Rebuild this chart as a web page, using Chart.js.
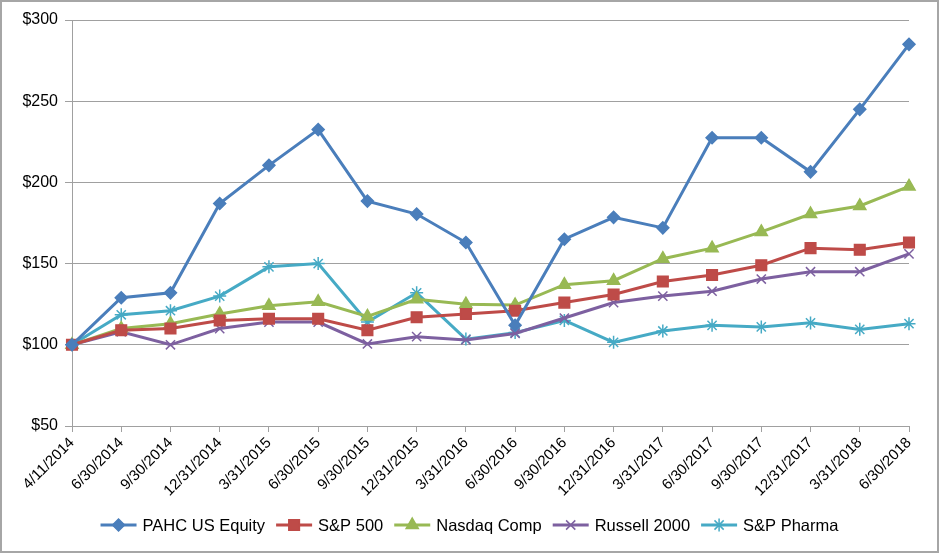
<!DOCTYPE html>
<html>
<head>
<meta charset="utf-8">
<script src="https://cdn.jsdelivr.net/npm/chart.js@4/dist/chart.umd.min.js"></script>
<style>
  html, body { margin: 0; padding: 0; background: #fff; }
  .frame { width: 935px; height: 549px; border: 2px solid #a6a6a6; }
</style>
</head>
<body>
<div class="frame"><canvas id="chart" width="935" height="549"></canvas></div>
<script>
const dates = ['4/11/2014', '6/30/2014', '9/30/2014', '12/31/2014', '3/31/2015', '6/30/2015',
  '9/30/2015', '12/31/2015', '3/31/2016', '6/30/2016', '9/30/2016', '12/31/2016',
  '3/31/2017', '6/30/2017', '9/30/2017', '12/31/2017', '3/31/2018', '6/30/2018'];

const pahc = [100, 129, 132, 187, 210.5, 232.5, 188.5, 180.5, 163, 112, 165, 178.5, 172, 227.5, 227.5, 206.5, 245, 285];
const sp500 = [100, 109, 110, 115, 116, 116, 109, 117, 119, 121, 126, 131, 139, 143, 149, 159.5, 158.5, 163];
const nasdaq = [100, 110, 113, 119, 124, 126.5, 117.5, 128, 125, 124.5, 137, 139.5, 153, 159.5, 169.5, 180.5, 185.5, 197.5];
const russell = [100, 108, 100, 110, 114, 114, 100.5, 105, 103, 107, 116.5, 126, 130, 133, 140.5, 145, 145, 156];
const pharma = [100, 118.5, 121, 130, 148, 150, 114, 132, 103.5, 107.5, 115, 101.5, 108.5, 112, 111, 113.5, 109.5, 113];

const series = [
  { label: 'PAHC US Equity', data: pahc, color: '#4a7ebb', style: 'rectRot', r: 6 },
  { label: 'S&P 500', data: sp500, color: '#be4b48', style: 'rect', r: 7.5 },
  { label: 'Nasdaq Comp', data: nasdaq, color: '#98b954', style: 'triangle', r: 7 },
  { label: 'Russell 2000', data: russell, color: '#7d60a0', style: 'crossRot', r: 6.5 },
  { label: 'S&P Pharma', data: pharma, color: '#46aac5', style: 'star', r: 6.5 }
];

const FONT = '"Liberation Sans", Arial, Helvetica, sans-serif';
Chart.defaults.font.family = FONT;
Chart.defaults.color = '#000';

// legend drawn as "line with marker" like the original spreadsheet chart
const lineLegend = {
  id: 'lineLegend',
  afterDraw(chart) {
    const ctx = chart.ctx;
    const y = 523;
    const lineLen = 36, gapText = 6, gapItem = 11;
    ctx.save();
    ctx.font = '16.5px ' + FONT;
    let total = 0;
    const widths = series.map(s => ctx.measureText(s.label).width);
    widths.forEach(w => { total += lineLen + gapText + w; });
    total += gapItem * (series.length - 1);
    let x = (chart.width - total) / 2;
    series.forEach((s, i) => {
      ctx.strokeStyle = s.color;
      ctx.fillStyle = s.color;
      ctx.lineWidth = 3;
      ctx.beginPath();
      ctx.moveTo(x, y);
      ctx.lineTo(x + lineLen, y);
      ctx.stroke();
      ctx.lineWidth = 1.5;
      Chart.helpers.drawPoint(ctx, { pointStyle: s.style, radius: s.r, rotation: 0, borderWidth: 1.5 }, x + lineLen / 2, y);
      ctx.fillStyle = '#000';
      ctx.textBaseline = 'middle';
      ctx.textAlign = 'left';
      ctx.fillText(s.label, x + lineLen + gapText, y + 1);
      x += lineLen + gapText + widths[i] + gapItem;
    });
    ctx.restore();
  }
};

new Chart(document.getElementById('chart'), {
  type: 'line',
  data: {
    labels: dates,
    datasets: series.map(s => ({
      label: s.label,
      data: s.data,
      borderColor: s.color,
      backgroundColor: s.color,
      pointBackgroundColor: s.color,
      pointBorderColor: s.color,
      pointStyle: s.style,
      pointRadius: s.r,
      pointBorderWidth: 1.5,
      borderWidth: 3,
      tension: 0
    }))
  },
  options: {
    responsive: false,
    animation: false,
    layout: { padding: { left: 4, right: 28, top: 18, bottom: 45 } },
    plugins: {
      tooltip: { enabled: false },
      legend: { display: false }
    },
    scales: {
      x: {
        grid: { display: true, drawOnChartArea: false, color: '#a0a0a0', tickLength: 6 },
        border: { color: '#a0a0a0' },
        ticks: { maxRotation: 45, minRotation: 45, autoSkip: false, font: { size: 15 }, padding: 2 },
        afterFit: scale => { scale.height = 80; }
      },
      y: {
        min: 50,
        max: 300,
        ticks: { stepSize: 50, font: { size: 16 }, padding: 7, callback: v => '$' + v },
        grid: { color: '#a0a0a0', tickLength: 7 },
        border: { color: '#a0a0a0' },
        afterFit: scale => { scale.width = 66; }
      }
    }
  },
  plugins: [lineLegend]
});
</script>
</body>
</html>
